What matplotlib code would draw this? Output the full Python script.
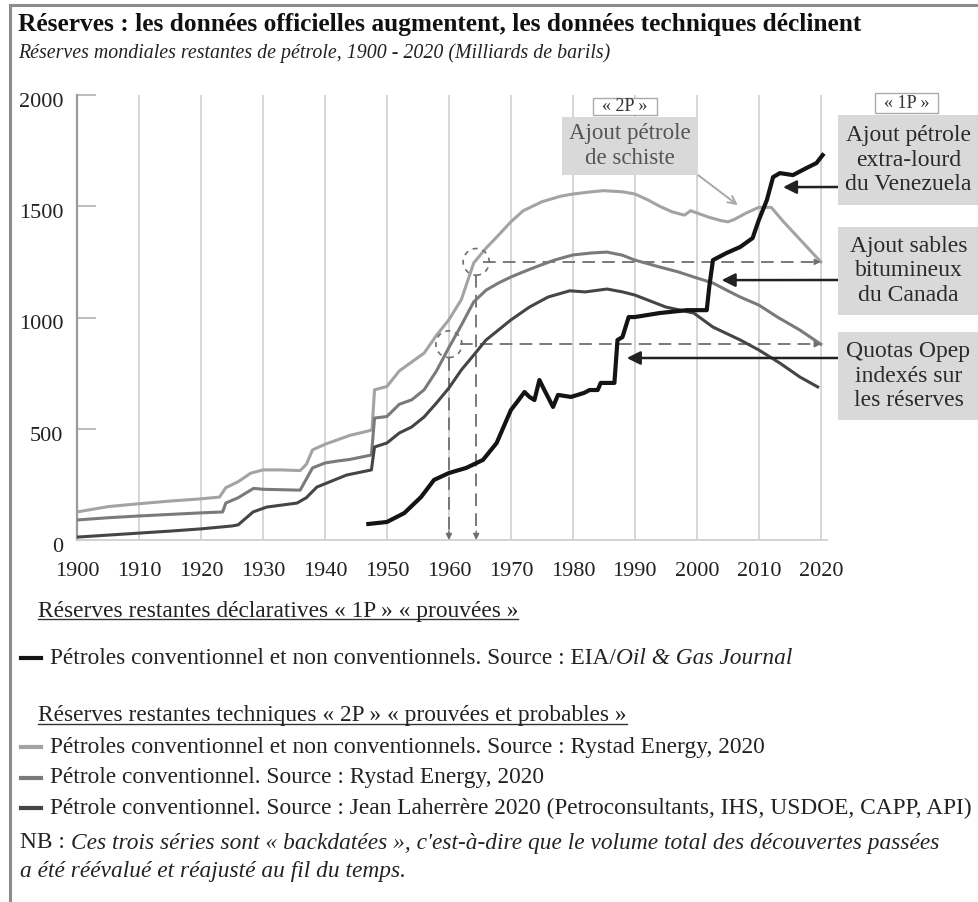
import matplotlib
matplotlib.use('Agg')
import matplotlib.pyplot as plt
import matplotlib.transforms as mtransforms
from matplotlib.patches import Rectangle, Ellipse
from matplotlib.lines import Line2D

W, H = 979, 902
SERIF = ['Liberation Serif', 'DejaVu Serif']
plt.rcParams['font.family'] = SERIF

# Rystad, conventionnel + non conventionnel (2P)
lg_years = [1900, 1905, 1910, 1915, 1920, 1923, 1924, 1926, 1928, 1930, 1933, 1936, 1937, 1938, 1940,
            1942, 1944, 1947, 1947.6, 1948, 1950, 1952, 1954, 1956, 1958, 1960, 1962, 1964, 1966,
            1968, 1970, 1972, 1975, 1978, 1980, 1983, 1985, 1988, 1990, 1992, 1994, 1996, 1998,
            1999, 2000, 2002, 2004, 2005, 2006, 2008, 2010, 2012, 2014, 2016, 2018, 2020]
lg_vals = [126, 150, 163, 175, 185, 193, 235, 262, 300, 315, 315, 312, 340, 405, 430,
           450, 470, 490, 495, 675, 690, 760, 800, 840, 920, 990, 1080, 1245, 1312,
           1370, 1430, 1480, 1520, 1545, 1555, 1565, 1570, 1565, 1555, 1530, 1500, 1475, 1460,
           1480, 1470, 1450, 1435, 1430, 1440, 1470, 1495, 1495, 1430, 1370, 1310, 1250]

# Rystad, conventionnel (2P)
mg_years = [1900, 1905, 1910, 1915, 1920, 1923.5, 1924, 1926, 1928.5, 1930, 1933, 1936, 1938, 1940,
            1942, 1944, 1947.5, 1948, 1950, 1952, 1954, 1956, 1958, 1960, 1962, 1964, 1966, 1968,
            1970, 1972, 1974, 1977, 1980, 1983, 1985.5, 1988, 1990, 1994, 1997, 1999.5, 2002.6,
            2005, 2007, 2010, 2013, 2016.6, 2020]
mg_vals = [90, 100, 108, 115, 122, 126, 166, 190, 232, 228, 226, 224, 324, 346,
           355, 362, 382, 548, 555, 610, 630, 675, 760, 865, 965, 1070, 1123, 1155,
           1182, 1205, 1227, 1258, 1281, 1290, 1294, 1280, 1258, 1227, 1205, 1182, 1155,
           1120, 1092, 1056, 1002, 944, 880]

# Laherrère, conventionnel (2P)
dk_years = [1900, 1905, 1910, 1915, 1920, 1925, 1926, 1928.4, 1930.6, 1935.5, 1937, 1938.7, 1940.3,
            1943.5, 1947.5, 1948, 1950, 1952, 1954, 1956, 1958, 1960, 1962, 1964, 1966, 1970,
            1973, 1976, 1979.5, 1982, 1985.5, 1988, 1990, 1995, 1999.5, 2002.6, 2007, 2010,
            2013.4, 2016.6, 2019.5]
dk_vals = [13, 22, 31, 40, 50, 63, 68, 126, 148, 166, 190, 238, 256,
           292, 315, 418, 436, 481, 508, 553, 616, 683, 764, 831, 899, 989,
           1047, 1092, 1120, 1115, 1128, 1115, 1101, 1047, 1020, 957, 899, 854,
           795, 733, 688]

# EIA / Oil & Gas Journal (1P)
bk_years = [1947, 1950, 1952.8, 1955.5, 1957.6, 1960, 1962.8, 1965.5, 1967.7, 1970, 1971, 1972.2,
            1973, 1973.8, 1974.6, 1975.4, 1976.8, 1977.6, 1979.7, 1981.8, 1982.7, 1984, 1984.5,
            1986.7, 1987.2, 1988, 1989, 1990, 1994, 1998.4, 2001.6, 2002, 2002.6, 2004.8, 2007,
            2009, 2010, 2011.3, 2012.3, 2013.4, 2015.5, 2017.7, 2019.3, 2020.3]
bk_vals = [72, 81, 121, 193, 270, 301, 324, 360, 436, 584, 620, 665,
           643, 629, 719, 674, 598, 652, 643, 661, 674, 674, 706,
           706, 899, 912, 1002, 1002, 1020, 1033, 1033, 1137, 1258, 1290, 1317,
           1357, 1438, 1528, 1631, 1649, 1640, 1672, 1694, 1730]

C_LG, C_MG, C_DK, C_BK = '#a3a3a3', '#7a7a7a', '#454545', '#141414'


def fx(x):
    return x / W


def fy(y):
    return 1 - y / H


fig = plt.figure(figsize=(W / 100, H / 100), dpi=100)

# outer frame (left and top edges)
fig.add_artist(Line2D([fx(10), fx(10)], [fy(5), fy(902)], color='#8c8c8c', lw=2.2))
fig.add_artist(Line2D([fx(10), fx(979)], [fy(5), fy(5)], color='#8c8c8c', lw=2.2))

fig.text(fx(18), fy(24), "Réserves : les données officielles augmentent, les données techniques déclinent",
         fontsize=18.3, fontweight='bold', va='center', ha='left', color='#111')
fig.text(fx(18), fy(53), "Réserves mondiales restantes de pétrole, 1900 - 2020 (Milliards de barils)",
         fontsize=14.3, style='italic', va='center', ha='left', color='#222')

ax = fig.add_axes([fx(77), fy(540), (827 - 77) / W, 445 / H])
ax.set_xlim(1900, 2021)
ax.set_ylim(0, 2000)
for s in ['top', 'right']:
    ax.spines[s].set_visible(False)
ax.spines['left'].set_color('#9a9a9a')
ax.spines['left'].set_linewidth(1.6)
ax.spines['bottom'].set_color('#d0d0d0')
ax.spines['bottom'].set_linewidth(1.3)

for yr in range(1910, 2021, 10):
    ax.axvline(yr, color='#d6d6d6', lw=1.4, zorder=0)

ax.set_xticks(range(1900, 2021, 10))
ax.set_yticks([0, 500, 1000, 1500, 2000])
ax.tick_params(axis='x', length=0, labelsize=16, pad=16, labelcolor='#222')
ax.tick_params(axis='y', direction='in', length=14, width=1.2, color='#b0b0b0',
               labelsize=16, pad=10, labelcolor='#222')
# y labels sit a little below their tick
shift = mtransforms.ScaledTranslation(0, -5 / 100, fig.dpi_scale_trans)
for lab in ax.get_yticklabels():
    lab.set_transform(lab.get_transform() + shift)

ax.plot(lg_years, lg_vals, color=C_LG, lw=2.2, zorder=3)
ax.plot(mg_years, mg_vals, color=C_MG, lw=2.2, zorder=3)
ax.plot(dk_years, dk_vals, color=C_DK, lw=2.2, zorder=3)
ax.plot(bk_years, bk_vals, color=C_BK, lw=3.0, zorder=4)

# dashed guides: 2020 level found again in the early 1960s
dash = dict(color='#6e6e6e', lw=1.3, ls=(0, (7, 4)), zorder=2)
head = dict(arrowstyle='-|>', color='#6e6e6e', lw=1.0, mutation_scale=9, shrinkA=0, shrinkB=0)
for x0, x_drop, level in [(1965.5, 1964.4, lg_vals[-1]), (1961.8, 1960.0, mg_vals[-1])]:
    ax.plot([x0, 2019.6], [level, level], **dash)
    ax.annotate('', xy=(2020, level), xytext=(2019.0, level), arrowprops=head)
    ax.plot([x_drop, x_drop], [level - 60, 25], **dash)
    ax.annotate('', xy=(x_drop, 0), xytext=(x_drop, 40), arrowprops=head)
    ax.add_patch(Ellipse((x_drop, level), 4.2, 120, fill=False, ec='#6e6e6e',
                         lw=1.2, ls=(0, (3, 3)), zorder=5))


def box(x0, y0, x1, y1, txt, size, fc='#d9d9d9', ec='none', tc='#2a2a2a', ls=1.2):
    fig.add_artist(Rectangle((fx(x0), fy(y1)), (x1 - x0) / W, (y1 - y0) / H,
                             transform=fig.transFigure, fc=fc, ec=ec, lw=1.0, zorder=6))
    fig.text(fx((x0 + x1) / 2), fy((y0 + y1) / 2), txt, fontsize=size, ha='center', va='center',
             color=tc, linespacing=ls, zorder=7)


box(593, 98, 657, 115, "« 2P »", 13, fc='white', ec='#aaaaaa', tc='#333')
box(875, 93, 938, 113, "« 1P »", 13, fc='white', ec='#aaaaaa', tc='#333')
box(562, 117, 698, 175, "Ajout pétrole\nde schiste", 16.5, tc='#555', ls=1.2)
box(838, 115, 979, 205, "Ajout pétrole\nextra-lourd\ndu Venezuela", 17, ls=1.22)
box(838, 227, 979, 315, "Ajout sables\nbitumineux\ndu Canada", 17, ls=1.22)
box(838, 332, 979, 420, "Quotas Opep\nindexés sur\nles réserves", 17, ls=1.22)

blk = dict(arrowstyle='-|>', color='#222', lw=1.8, mutation_scale=20, shrinkA=0, shrinkB=0)
for tip, ypix in [((2013.9, 1586), 187), ((2004.0, 1168), 280), ((1988.7, 818), 358)]:
    ax.annotate('', xy=tip, xytext=(fx(838), fy(ypix)), textcoords='figure fraction',
                arrowprops=blk, annotation_clip=False)
ax.annotate('', xy=(2006.6, 1505), xytext=(fx(698), fy(175)), textcoords='figure fraction',
            arrowprops=dict(arrowstyle='->', color='#a8a8a8', lw=1.4, mutation_scale=14,
                            shrinkA=0, shrinkB=0), annotation_clip=False)

# legend block below the plot
LS = 16.8
renderer = fig.canvas.get_renderer()


def underlined(x, y, txt):
    t = fig.text(fx(x), fy(y), txt, fontsize=LS, ha='left', va='center', color='#222')
    bb = t.get_window_extent(renderer)
    yl = bb.y0 + 3
    fig.add_artist(Line2D([bb.x0 / W, bb.x1 / W], [yl / H, yl / H], color='#333', lw=1.0))


def after(t, txt, **kw):
    bb = t.get_window_extent(renderer)
    x, y = t.get_position()
    return fig.text(bb.x1 / W, y, txt, fontsize=LS, ha='left', va='center', color='#222', **kw)


def sample(y, color):
    fig.add_artist(Line2D([fx(21), fx(41)], [fy(y), fy(y)], color=color, lw=3.0))


underlined(38, 611, "Réserves restantes déclaratives « 1P » « prouvées »")
sample(658, C_BK)
t = fig.text(fx(50), fy(658), "Pétroles conventionnel et non conventionnels. Source : EIA/",
             fontsize=LS, ha='left', va='center', color='#222')
after(t, "Oil & Gas Journal", style='italic')

underlined(38, 716, "Réserves restantes techniques « 2P » « prouvées et probables »")
sample(747, C_LG)
fig.text(fx(50), fy(747), "Pétroles conventionnel et non conventionnels. Source : Rystad Energy, 2020",
         fontsize=LS, ha='left', va='center', color='#222')
sample(778, C_MG)
fig.text(fx(50), fy(778), "Pétrole conventionnel. Source : Rystad Energy, 2020",
         fontsize=LS, ha='left', va='center', color='#222')
sample(808, C_DK)
fig.text(fx(50), fy(808),
         "Pétrole conventionnel. Source : Jean Laherrère 2020 (Petroconsultants, IHS, USDOE, CAPP, API)",
         fontsize=LS, ha='left', va='center', color='#222')

t = fig.text(fx(20), fy(843), "NB : ", fontsize=LS, ha='left', va='center', color='#222')
after(t, "Ces trois séries sont « backdatées », c'est-à-dire que le volume total des découvertes passées",
      style='italic')
fig.text(fx(20), fy(872), "a été réévalué et réajusté au fil du temps.", fontsize=LS, style='italic',
         ha='left', va='center', color='#222')

fig.savefig('out.png', dpi=100)
